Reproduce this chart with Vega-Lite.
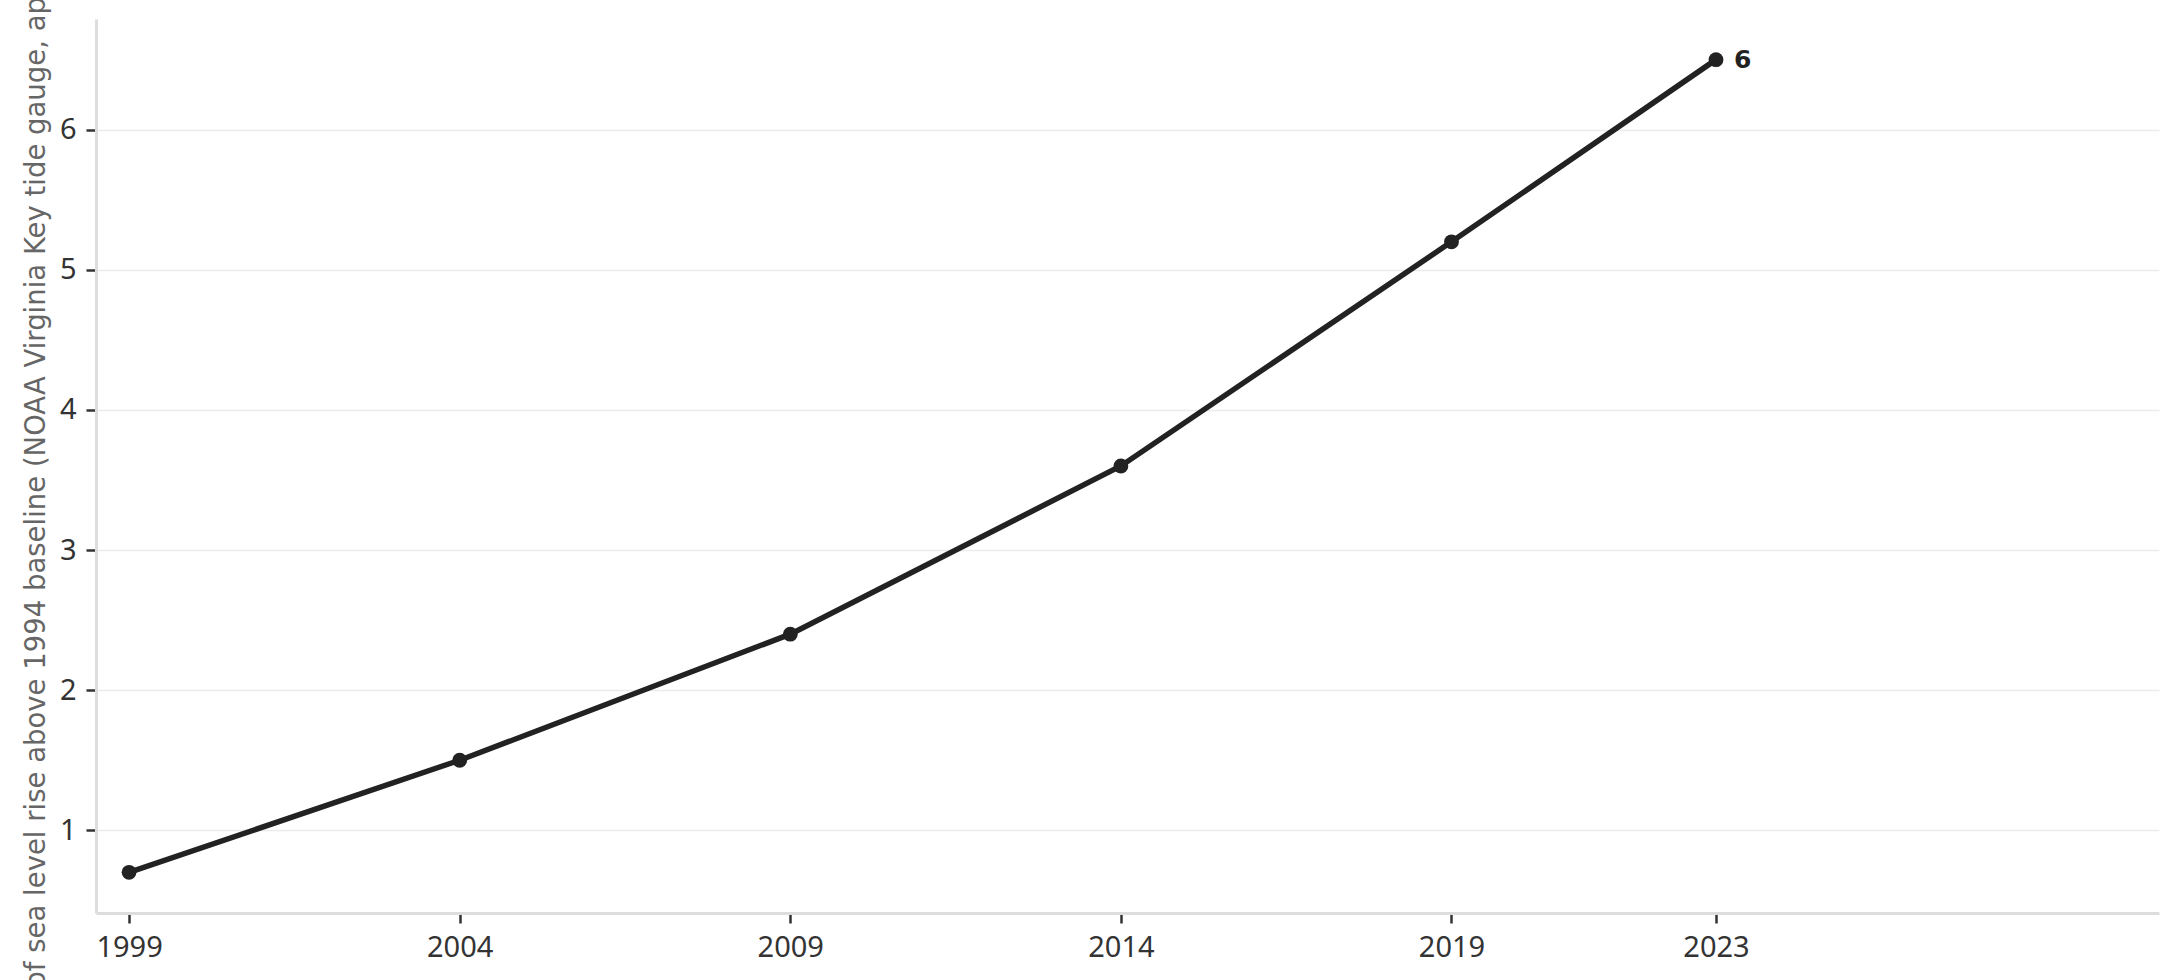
{
  "$schema": "https://vega.github.io/schema/vega-lite/v6.json",
  "width": 2063,
  "height": 894,
  "autosize": {"type": "none"},
  "padding": {"left": 96, "top": 19, "right": 21, "bottom": 67},
  "background": "white",
  "config": {
    "font": "Noto Sans",
    "view": {"stroke": null},
    "axis": {
      "domainColor": "#dddddd",
      "domainWidth": 3,
      "gridColor": "#ebebeb",
      "gridWidth": 1.5,
      "tickColor": "#333333",
      "tickWidth": 2.5,
      "tickSize": 10,
      "labelColor": "#333333",
      "labelFont": "Noto Sans",
      "labelFontSize": 29,
      "labelPadding": 10,
      "titleFont": "DejaVu Sans",
      "titleColor": "#666666",
      "titleFontWeight": "normal",
      "titleFontSize": 27.5
    }
  },
  "data": {
    "values": [
      {"year": 1999, "rise": 0.7},
      {"year": 2004, "rise": 1.5},
      {"year": 2009, "rise": 2.4},
      {"year": 2014, "rise": 3.6},
      {"year": 2019, "rise": 5.2},
      {"year": 2023, "rise": 6.5, "label": "6"}
    ]
  },
  "encoding": {
    "x": {
      "field": "year",
      "type": "quantitative",
      "title": null,
      "scale": {"domain": [1998.5, 2029.7], "nice": false, "zero": false},
      "axis": {"values": [1999, 2004, 2009, 2014, 2019, 2023], "format": "d", "grid": false, "labelFlush": false}
    },
    "y": {
      "field": "rise",
      "type": "quantitative",
      "title": "Inches of sea level rise above 1994 baseline (NOAA Virginia Key tide gauge, approximate)",
      "scale": {"domain": [0.41, 6.79], "nice": false, "zero": false},
      "axis": {"values": [1, 2, 3, 4, 5, 6], "titlePadding": 9, "labelFlush": false}
    }
  },
  "layer": [
    {
      "mark": {"type": "line", "color": "#222222", "strokeWidth": 5.5}
    },
    {
      "mark": {"type": "point", "filled": true, "color": "#222222", "size": 220, "opacity": 1}
    },
    {
      "transform": [{"filter": "isValid(datum.label)"}],
      "mark": {"type": "text", "align": "left", "baseline": "middle", "dx": 18, "font": "DejaVu Sans", "fontSize": 25, "fontWeight": "bold", "color": "#222222"},
      "encoding": {"text": {"field": "label"}}
    }
  ]
}
